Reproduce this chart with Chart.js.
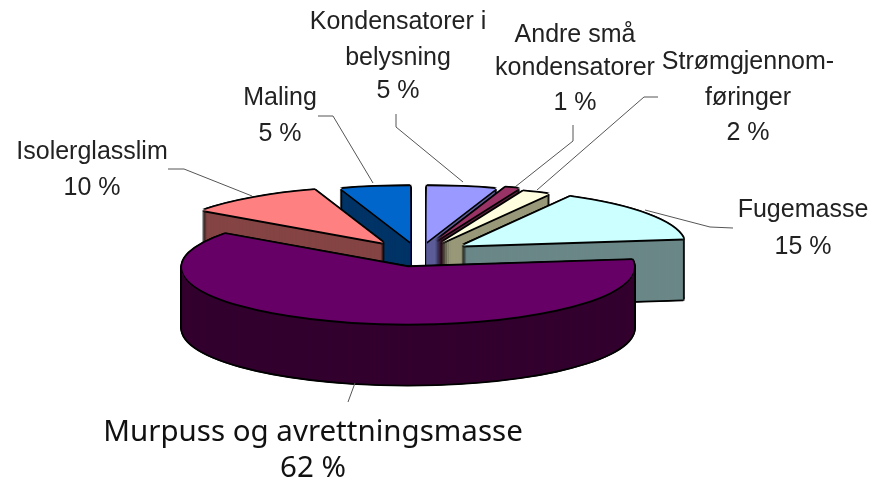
<!DOCTYPE html>
<html><head><meta charset="utf-8">
<style>html,body{margin:0;padding:0;background:#fff}#w{position:relative;width:873px;height:482px}canvas{display:block}</style>
<script src="https://cdn.jsdelivr.net/npm/chart.js@4"></script></head>
<body><div id="w"><canvas id="c" width="873" height="482"></canvas></div>
<script>
const categories = ["Kondensatorer i belysning","Andre små kondensatorer","Strømgjennomføringer","Fugemasse","Murpuss og avrettningsmasse","Isolerglasslim","Maling"];
const values = [5,1,2,15,62,10,5];
const topColors = ["#9999ff","#993366","#ffffe0","#ccffff","#660066","#ff8080","#0066cc"];
const sideColors = ["#5c5c99","#5c1f3d","#99997a","#6b8787","#33002e","#854444","#003366"];
const labelLines = [["Kondensatorer i","belysning"],["Andre små","kondensatorer"],["Strømgjennom-","føringer"],["Fugemasse"],["Murpuss og avrettningsmasse"],["Isolerglasslim"],["Maling"]];
// presentation constants
const explode = [54,54,54,54,42,60,54];
const grow = [1,1,1,1,1.018,1,1];
const lift = [2,0,2,0,4,2,2];
const drawOrder = [0,1,2,3,6,5,4];
const tilt = 0.25, depth = 61;
const labelPos = [
 {x:398,ys:[22,58,91]},{x:575,ys:[35,68,103]},{x:748,ys:[62,98,133]},{x:803,ys:[210,247]},
 {x:313,ys:[433,469],font:'29.5px "Noto Sans"',color:"#111"},{x:92,ys:[152,188]},{x:280,ys:[98,134]}];
const leaders = [
 [[396,114],[396,127],[463,182]],[[573,125],[573,141],[515,187]],[[658,97],[644,97],[537,190]],
 [[645,210],[710,227],[733,228]],[[355,383],[348,402]],[[168,169],[184,169],[252,196]],[[318,116],[333,116],[373,183]]];

const pie3d = {
  id:"pie3d",
  beforeDatasetsDraw(chart){
    const ctx = chart.ctx, arcs = chart.getDatasetMeta(0).data;
    const paint = (arc,color,dx,dy)=>{
      const saved = arc.options, i = arcs.indexOf(arc);
      arc.options = Object.assign({},saved,{backgroundColor:color,borderWidth:0});
      const mid = (arc.startAngle+arc.endAngle)/2, d = explode[i];
      ctx.save();
      ctx.translate(arc.x,arc.y);
      ctx.translate(dx,dy+lift[i]);
      ctx.scale(1,tilt);
      ctx.translate(Math.cos(mid)*d,Math.sin(mid)*d);
      ctx.scale(grow[i],grow[i]);
      ctx.translate(-arc.x,-arc.y);
      arc.draw(ctx);
      ctx.restore();
      arc.options = saved;
    };
    const r = 1.8, q = 1.3;
    const halo = [[-r,0],[r,0],[0,-r],[0,r],[-q,-q],[q,-q],[-q,q],[q,q]];
    drawOrder.forEach(i=>{
      const arc = arcs[i];
      for(let k=depth;k>=0;k-=1) halo.forEach(h=>{ if(k===depth||k===0||h[1]===0) paint(arc,"#000",h[0],k+h[1]); });
      for(let k=depth;k>=1;k-=1) paint(arc,sideColors[i],0,k);
      paint(arc,"#000",0,1);paint(arc,"#000",0,2);
      paint(arc,topColors[i],0,0);
    });
    // leader lines
    ctx.save();ctx.strokeStyle="#555";ctx.lineWidth=1;
    leaders.forEach(l=>{ctx.beginPath();l.forEach((p,j)=>j?ctx.lineTo(p[0],p[1]):ctx.moveTo(p[0],p[1]));ctx.stroke();});
    // labels
    ctx.textAlign="center";ctx.textBaseline="middle";
    labelLines.forEach((lines,i)=>{
      const p = labelPos[i];
      ctx.font = p.font||'25px "Liberation Sans"';ctx.fillStyle = p.color||"#222";
      lines.concat([values[i]+" %"]).forEach((t,j)=>ctx.fillText(t,p.x,p.ys[j]));
    });
    ctx.restore();
    return false;
  }
};
new Chart(document.getElementById("c"),{
  type:"pie",
  data:{labels:categories,datasets:[{data:values,backgroundColor:topColors,borderWidth:0,radius:222}]},
  options:{responsive:false,animation:false,layout:{padding:{top:24,right:36}},
    plugins:{legend:{display:false},tooltip:{enabled:false}}},
  plugins:[pie3d]
});
</script></body></html>
